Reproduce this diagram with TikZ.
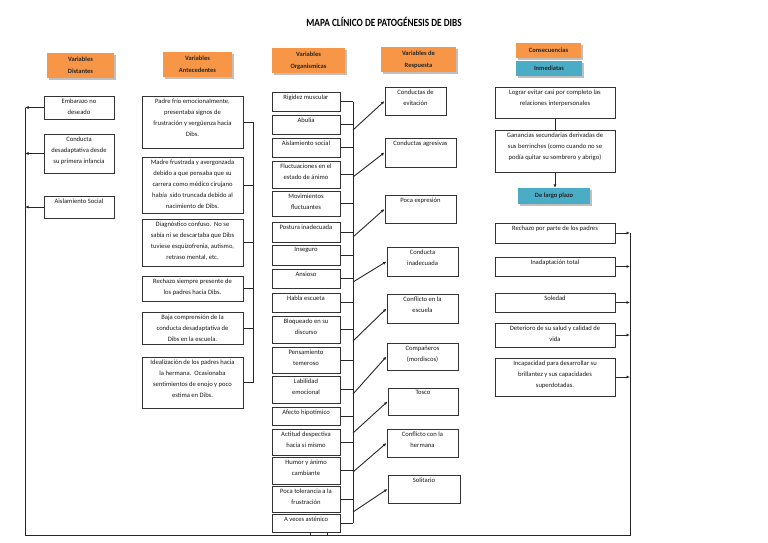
\documentclass[tikz,border=0pt]{standalone}
\usepackage{fontspec}
\setmainfont{Carlito}
\usetikzlibrary{arrows.meta,shadows}
\definecolor{orng}{HTML}{F79646}
\definecolor{blu}{HTML}{4BACC6}
\tikzset{
  boxs/.style={draw=black!80, line width=1pt, rectangle, inner sep=0pt},
  txt/.style={align=center, inner sep=0pt, font=\fontsize{6.6}{11}\selectfont, text=black!90},
  hdr/.style={fill=#1, inner sep=0pt, align=center, font=\fontsize{6.5}{12}\selectfont\bfseries, text=black!85,
    drop shadow={shadow xshift=2pt, shadow yshift=-2pt, fill=black!25, opacity=1}},
  ln/.style={draw=black!85, line width=0.9pt},
  arr/.style={ln, -{Latex[length=3.5pt,width=3pt]}},
}
\newcommand\dbox[6]{%
  \pgfmathsetmacro\dbw{#4-#2}%
  \pgfmathsetmacro\dbh{#5-#3}%
  \pgfmathsetmacro\dbx{(#2+#4)/2}%
  \pgfmathsetmacro\dby{(#3+#5)/2}%
  \node[boxs, minimum width=\dbw pt, minimum height=\dbh pt] (#1) at (\dbx,\dby) {};
  \node[txt, anchor=north] (#1t) at ([yshift=-3pt]#1.north) {#6};
}
\newcommand\dhdr[7]{%
  \pgfmathsetmacro\dbw{#4-#2}%
  \pgfmathsetmacro\dbh{#5-#3}%
  \pgfmathsetmacro\dbx{(#2+#4)/2}%
  \pgfmathsetmacro\dby{(#3+#5)/2}%
  \node[hdr=#6, minimum width=\dbw pt, minimum height=\dbh pt] (#1) at (\dbx,\dby) {#7};
}
\begin{document}
\begin{tikzpicture}[x=1pt,y=-1pt]
\useasboundingbox (0,0) rectangle (768,543);

\node (title) at (384,22) {\scalebox{0.84}[1]{\fontsize{11}{11}\selectfont\bfseries MAPA CLÍNICO DE PATOGÉNESIS DE DIBS}};

% headers
\dhdr{hd1}{47}{53}{114}{78}{orng}{Variables\\Distantes}
\dhdr{hd2}{163}{52}{232}{77}{orng}{Variables\\Antecedentes}
\dhdr{hd3}{272}{48}{345}{73}{orng}{Variables\\Organismicas}
\dhdr{hd4}{381}{47}{456}{72}{orng}{Variables de\\Respuesta}
\dhdr{cons}{516}{43}{581}{58}{orng}{Consecuencias}
\dhdr{inm}{516}{61}{582}{76}{blu}{Inmediatas}
\dhdr{largo}{518}{188}{590}{204}{blu}{De largo plazo}

% column 1
\dbox{emb}{44}{96}{114}{119}{Embarazo no\\deseado}
\dbox{cond}{44}{134}{114}{173}{Conducta\\desadaptativa desde\\su primera infancia}
\dbox{ais}{44}{196}{114}{218}{Aislamiento Social}

% column 2
\dbox{padre}{142}{96}{243}{148}{Padre frío emocionalmente,\\presentaba signos de\\frustración y vergüenza hacia\\Dibs.}
\dbox{madre}{142}{157}{243}{213}{Madre frustrada y avergonzada\\debido a que pensaba que su\\carrera como médico cirujano\\había\ \ sido truncada debido al\\nacimiento de Dibs.}
\dbox{diag}{142}{219}{243}{266}{Diagnóstico confuso.\ \ No se\\sabía ni se descartaba que Dibs\\tuviese esquizofrenia, autismo,\\retraso mental, etc.}
\dbox{rechp}{142}{276}{243}{301}{Rechazo siempre presente de\\los padres hacia Dibs.}
\dbox{baja}{142}{312}{243}{344}{Baja comprensión de la\\conducta desadaptativa de\\Dibs en la escuela.}
\dbox{ideal}{142}{357}{243}{408}{Idealización de los padres hacia\\la hermana.\ \ Ocasionaba\\sentimientos de enojo y poco\\estima en Dibs.}

% column 3
\dbox{rig}{272}{92}{340}{111}{Rigidez muscular}
\dbox{abu}{272}{115}{340}{134}{Abulia}
\dbox{aiss}{272}{138}{340}{157}{Aislamiento social}
\dbox{fluc}{272}{161}{340}{188}{Fluctuaciones en el\\estado de ánimo}
\dbox{mov}{272}{191}{340}{216}{Movimientos\\fluctuantes}
\dbox{post}{272}{222}{340}{242}{Postura inadecuada}
\dbox{inse}{272}{245}{340}{265}{Inseguro}
\dbox{ansi}{272}{269}{340}{288}{Ansioso}
\dbox{habl}{272}{293}{340}{312}{Habla escueta}
\dbox{bloq}{272}{316}{340}{343}{Bloqueado en su\\discurso}
\dbox{pens}{272}{347}{340}{373}{Pensamiento\\temeroso}
\dbox{labi}{272}{376}{340}{403}{Labilidad\\emocional}
\dbox{afec}{272}{407}{340}{425}{Afecto hipotímico}
\dbox{acti}{272}{429}{340}{455}{Actitud despectiva\\hacia sí mismo}
\dbox{humo}{272}{457}{340}{484}{Humor y ánimo\\cambiante}
\dbox{pocat}{272}{486}{340}{512}{Poca tolerancia a la\\frustración}
\dbox{avec}{272}{514}{340}{532}{A veces asténico}

% column 4
\dbox{evit}{385}{87}{446}{115}{Conductas de\\evitación}
\dbox{agre}{385}{138}{456}{167}{Conductas agresivas}
\dbox{pocx}{385}{195}{456}{223}{Poca expresión}
\dbox{inad4}{387}{247}{458}{276}{Conducta\\inadecuada}
\dbox{esc}{387}{294}{458}{323}{Conflicto en la\\escuela}
\dbox{comp}{387}{343}{458}{370}{Compañeros\\(mordiscos)}
\dbox{tosco}{388}{388}{458}{415}{Tosco}
\dbox{herm}{387}{429}{458}{457}{Conflicto con la\\hermana}
\dbox{soli}{388}{475}{460}{503}{Solitario}

% column 5
\dbox{logr}{495}{87}{615}{118}{Lograr evitar casi por completo las\\relaciones interpersonales}
\dbox{gan}{495}{130}{615}{172}{Ganancias secundarias derivadas de\\sus berrinches (como cuando no se\\podía quitar su sombrero y abrigo)}
\dbox{rech}{495}{223}{615}{243}{Rechazo por parte de los padres}
\dbox{inad}{495}{257}{615}{276}{Inadaptación total}
\dbox{sol}{495}{293}{615}{312}{Soledad}
\dbox{det}{495}{323}{615}{347}{Deterioro de su salud y calidad de\\vida}
\dbox{inc}{495}{358}{615}{396}{Incapacidad para desarrollar su\\brillantez y sus capacidades\\superdotadas.}

% buses
\coordinate (lb) at (25,535);
\coordinate (rb) at (630,535);
\coordinate (b2) at (253,0);
\coordinate (b3) at (353,0);

% left / bottom / right loop
\draw[ln] (emb.west -| lb) -- (lb) -- (rb) -- (rech.east -| rb);
\foreach \n in {emb,cond,ais} \draw[arr] (\n.west) -- (\n.west -| lb);
\foreach \n in {rech,inad,sol,det,inc} \draw[arr] (\n.east) -- (\n.east -| rb);
\coordinate (tk1) at (310,535);
\coordinate (tk2) at (327,535);
\draw[ln] (tk1) -- (tk1 |- avec.south);
\draw[ln] (tk2) -- (tk2 |- avec.south);

% column 2 bracket
\foreach \n in {padre,madre,diag,rechp,baja,ideal} \draw[ln] (\n.east) -- (\n.east -| b2);
\draw[ln] (padre.east -| b2) -- (ideal.east -| b2);

% column 3 bus
\foreach \n in {rig,abu,aiss,fluc,mov,post,inse,ansi,habl,bloq,pens,labi,afec,acti,humo,pocat,avec}
  \draw[ln] (\n.east) -- (\n.east -| b3);
\draw[ln] (rig.east -| b3) -- (avec.east -| b3);

% column 3 -> column 4
\foreach \y/\n in {130/evit,177/agre,237/pocx,282/inad4,341/esc,394/comp,433/tosco,472/herm,512/soli}{
  \coordinate (s\n) at (353,\y);
  \draw[arr] (s\n) -- (\n.west);
}

% column 5
\draw[ln] (logr.south) -- (logr.south |- gan.north);
\draw[arr] (gan.south) -- (gan.south |- largo.north);
\end{tikzpicture}
\end{document}
